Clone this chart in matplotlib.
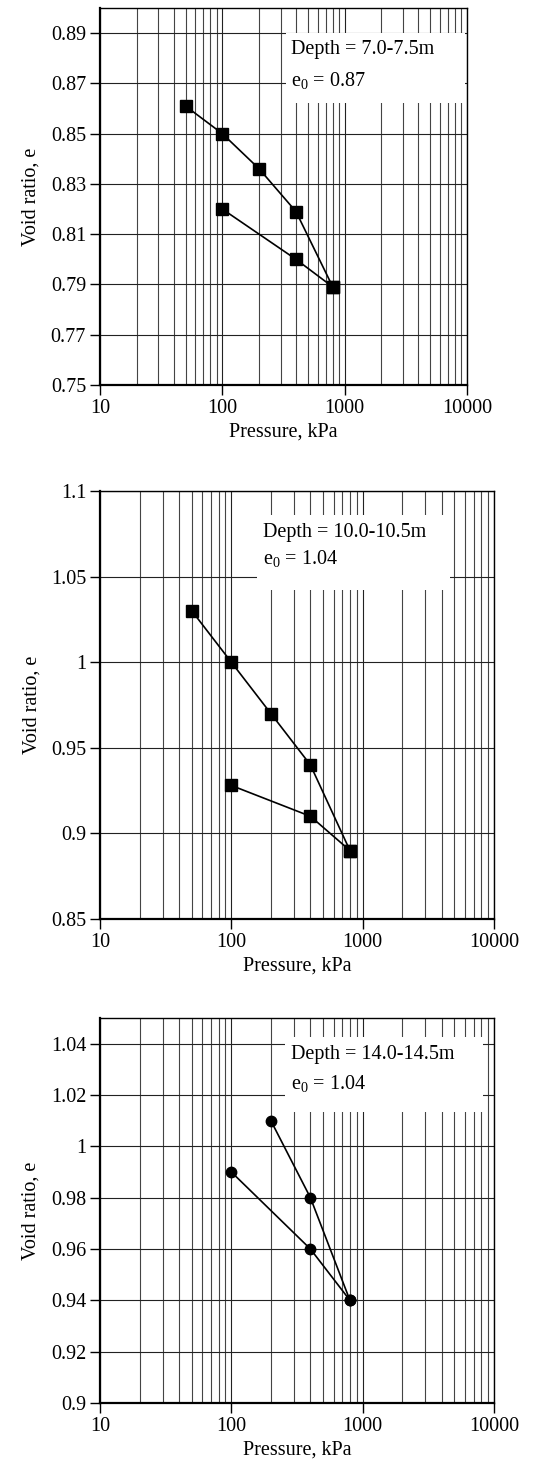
import numpy as np
import matplotlib
matplotlib.use("Agg")
import matplotlib.pyplot as plt
from matplotlib.patches import Rectangle
from matplotlib.ticker import LogLocator, FixedLocator, NullFormatter, FixedFormatter

plt.rcParams['font.family'] = ['Liberation Serif', 'DejaVu Serif']
plt.rcParams['mathtext.fontset'] = 'custom'
plt.rcParams['mathtext.rm'] = 'Liberation Serif'
plt.rcParams['mathtext.it'] = 'Liberation Serif'
plt.rcParams['mathtext.default'] = 'rm'

FS = 14.5

# Panel 1: depth 7.0-7.5 m
p1_load_x = [50, 100, 200, 400, 800]
p1_load_e = [0.861, 0.850, 0.836, 0.819, 0.789]
p1_unload_x = [800, 400, 100]
p1_unload_e = [0.789, 0.800, 0.820]

# Panel 2: depth 10.0-10.5 m
p2_load_x = [50, 100, 200, 400, 800]
p2_load_e = [1.030, 1.000, 0.970, 0.940, 0.890]
p2_unload_x = [800, 400, 100]
p2_unload_e = [0.890, 0.910, 0.928]

# Panel 3: depth 14.0-14.5 m
p3_load_x = [200, 400, 800]
p3_load_e = [1.010, 0.980, 0.940]
p3_unload_x = [800, 400, 100]
p3_unload_e = [0.940, 0.960, 0.990]

x_ticks = [10, 100, 1000, 10000]
x_labels = ['10', '100', '1000', '10000']

p1_yticks = [0.75, 0.77, 0.79, 0.81, 0.83, 0.85, 0.87, 0.89]
p1_ylabels = ['0.75', '0.77', '0.79', '0.81', '0.83', '0.85', '0.87', '0.89']
p2_yticks = [0.85, 0.9, 0.95, 1.0, 1.05, 1.1]
p2_ylabels = ['0.85', '0.9', '0.95', '1', '1.05', '1.1']
p3_yticks = [0.9, 0.92, 0.94, 0.96, 0.98, 1.0, 1.02, 1.04]
p3_ylabels = ['0.9', '0.92', '0.94', '0.96', '0.98', '1', '1.02', '1.04']

panels = [
    dict(rect=[100/551, 1-385/1469, 367/551, 377/1469], ylim=(0.75, 0.90),
         yt=p1_yticks, yl=p1_ylabels, lx=p1_load_x, le=p1_load_e,
         ux=p1_unload_x, ue=p1_unload_e, marker='s', ms=8,
         box=(0.507, 0.748, 0.488, 0.186), tx=0.52, ty=(0.889, 0.809),
         lines=('Depth = 7.0-7.5m', 'e$_0$ = 0.87')),
    dict(rect=[100/551, 1-919/1469, 394/551, 428/1469], ylim=(0.85, 1.1),
         yt=p2_yticks, yl=p2_ylabels, lx=p2_load_x, le=p2_load_e,
         ux=p2_unload_x, ue=p2_unload_e, marker='s', ms=8,
         box=(0.398, 0.769, 0.49, 0.175), tx=0.414, ty=(0.902, 0.843),
         lines=('Depth = 10.0-10.5m', 'e$_0$ = 1.04')),
    dict(rect=[100/551, 1-1403/1469, 394/551, 385/1469], ylim=(0.9, 1.05),
         yt=p3_yticks, yl=p3_ylabels, lx=p3_load_x, le=p3_load_e,
         ux=p3_unload_x, ue=p3_unload_e, marker='o', ms=7.5,
         box=(0.47, 0.756, 0.502, 0.195), tx=0.485, ty=(0.904, 0.831),
         lines=('Depth = 14.0-14.5m', 'e$_0$ = 1.04')),
]

fig = plt.figure(figsize=(5.51, 14.69), dpi=100)

for p in panels:
    ax = fig.add_axes(p['rect'])
    ax.set_xscale('log')
    ax.set_xlim(10, 10000)
    ax.set_ylim(*p['ylim'])

    ax.xaxis.set_major_locator(FixedLocator(x_ticks))
    ax.xaxis.set_major_formatter(FixedFormatter(x_labels))
    ax.xaxis.set_minor_locator(LogLocator(base=10, subs=np.arange(2, 10)))
    ax.xaxis.set_minor_formatter(NullFormatter())
    ax.yaxis.set_major_locator(FixedLocator(p['yt']))
    ax.yaxis.set_major_formatter(FixedFormatter(p['yl']))

    ax.tick_params(axis='both', which='major', direction='out', length=7,
                   width=1.0, labelsize=FS, pad=3)
    ax.tick_params(axis='x', which='minor', length=0)

    ax.grid(True, which='major', axis='both', color='#222222', lw=0.8)
    ax.grid(True, which='minor', axis='x', color='#444444', lw=0.8)
    ax.set_axisbelow(True)

    for side in ['left', 'bottom']:
        ax.spines[side].set_linewidth(1.6)
    for side in ['top', 'right']:
        ax.spines[side].set_linewidth(1.0)

    ax.plot(p['lx'], p['le'], color='black', lw=1.2, marker=p['marker'],
            ms=p['ms'], mfc='black', mec='black', zorder=4, clip_on=False)
    ax.plot(p['ux'], p['ue'], color='black', lw=1.2, marker=p['marker'],
            ms=p['ms'], mfc='black', mec='black', zorder=4, clip_on=False)

    bx, by, bw, bh = p['box']
    ax.add_patch(Rectangle((bx, by), bw, bh, transform=ax.transAxes,
                           facecolor='white', edgecolor='none', zorder=3))
    ax.text(p['tx'], p['ty'][0], p['lines'][0], transform=ax.transAxes,
            fontsize=FS, va='center', ha='left', zorder=5)
    ax.text(p['tx'], p['ty'][1], p['lines'][1], transform=ax.transAxes,
            fontsize=FS, va='center', ha='left', zorder=5)

    ax.set_xlabel('Pressure, kPa', fontsize=FS, labelpad=3)
    ax.set_ylabel('Void ratio, e', fontsize=FS, labelpad=7)

fig.savefig('out.png', dpi=100)
